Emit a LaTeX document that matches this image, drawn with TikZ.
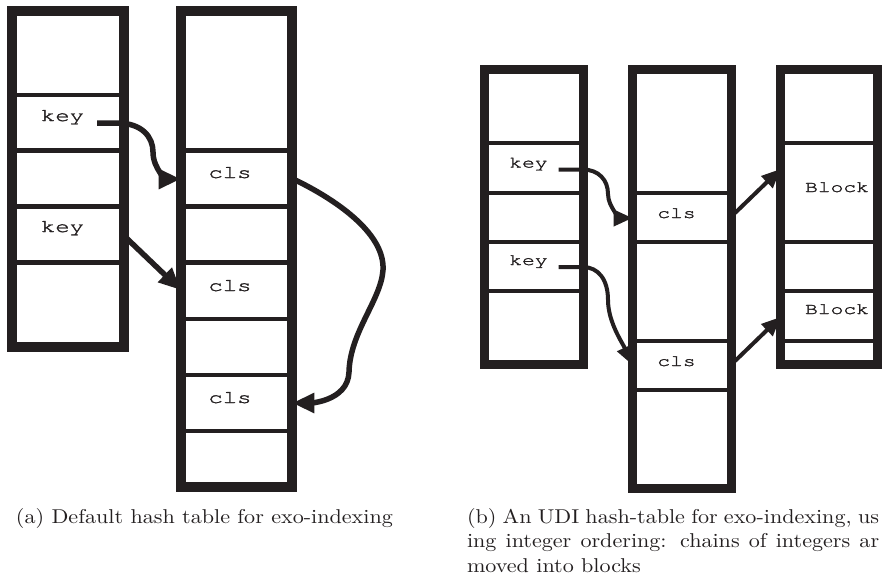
\documentclass[tikz,border=0pt]{standalone}
\usepackage{fontspec}
\usepackage{graphicx}
\newfontfamily\courfont[FakeBold=1.5]{texgyrecursor-regular.otf}
\usetikzlibrary{arrows.meta,calc}
\definecolor{ink}{RGB}{35,31,32}
\newcommand{\mytA}[1]{\scalebox{1.33}[1]{\fontsize{18}{20}\courfont #1}}
\newcommand{\mytB}[1]{\scalebox{1.33}[1]{\fontsize{16}{18}\courfont #1}}
\newcommand{\mycap}[1]{\scalebox{2.21}[2.0]{\fontsize{10}{12}\selectfont #1}}
\begin{document}
\begin{tikzpicture}[x=1pt,y=-1pt,
  tablebox/.style={draw=ink,inner sep=0pt,outer sep=0pt},
  sepA/.style={draw=ink,line width=4.5pt},
  sepB/.style={draw=ink,line width=4pt},
  txt/.style={inner sep=0pt,outer sep=0pt,anchor=base,text=ink},
  captxt/.style={inner sep=0pt,outer sep=0pt,anchor=base west,text=ink},
  arrA/.style={draw=ink,line width=5.5pt,-{Triangle[length=22pt,width=19pt]}},
  arrB/.style={draw=ink,line width=4pt,-{Triangle[length=19pt,width=16pt]}}]
\useasboundingbox (0,0) rectangle (882,576);

% ---------- (a) ----------
\coordinate (A1c) at (68,178.9);
\coordinate (A2c) at (236.5,249);
\path (A1c) node[minimum width=112.6pt,minimum height=336.2pt,inner sep=0pt,outer sep=0pt] (A1) {};
\path (A2c) node[minimum width=111.6pt,minimum height=476.5pt,inner sep=0pt,outer sep=0pt] (A2) {};
\foreach \yy in {95,150.7,206.7,262.7}
  \draw[sepA] (A1.west |- 0,\yy) -- (A1.east |- 0,\yy);
\foreach \yy in {150.7,206.7,262.7,319,375,431}
  \draw[sepA] (A2.west |- 0,\yy) -- (A2.east |- 0,\yy);
\node[tablebox,line width=10pt,minimum width=112.6pt,minimum height=336.2pt] at (A1c) {};
\node[tablebox,line width=10pt,minimum width=111.6pt,minimum height=476.5pt] at (A2c) {};

\node[txt] (ka1) at (62.5,121) {\mytA{key}};
\node[txt] (ka2) at (62.5,232) {\mytA{key}};
\node[txt] (ca1) at (230,178) {\mytA{cls}};
\node[txt] (ca2) at (230,291) {\mytA{cls}};
\node[txt] (ca3) at (230,403) {\mytA{cls}};

\coordinate (p1s) at ($(ka1.base east)+(13,2)$);
\coordinate (p1e) at ($(A2.west |- ca1.base)+(0,1)$);
\draw[arrA] (p1s) -- ++(20,0) .. controls +(25,0) and +(0,-15) .. (153,152)
  .. controls +(0,18) and +(-12,0) .. (p1e);

\coordinate (p2s) at ($(ka2.base -| A1.east)+(1,5)$);
\coordinate (p2e) at ($(A2.west |- ca2.base)+(0,-1)$);
\draw[arrA] (p2s) -- (p2e);

\coordinate (p3s) at ($(A2.east |- ca1.base)+(3,2)$);
\coordinate (p3e) at ($(A2.east |- ca3.base)$);
\draw[arrA] (p3s) .. controls +(45,22) and +(2,-35) .. (383,270)
  .. controls +(-2,30) and +(1,-40) .. (349,372)
  .. controls +(-1,30) and +(15,0) .. (p3e);

% ---------- (b) ----------
\coordinate (B1c) at (534,217);
\coordinate (B2c) at (682,279);
\coordinate (B3c) at (829,217);
\path (B1c) node[minimum width=99pt,minimum height=295pt,inner sep=0pt,outer sep=0pt] (B1) {};
\path (B2c) node[minimum width=99pt,minimum height=419pt,inner sep=0pt,outer sep=0pt] (B2) {};
\path (B3c) node[minimum width=97pt,minimum height=295pt,inner sep=0pt,outer sep=0pt] (B3) {};
\foreach \yy in {143.3,192.7,242.3,291.3}
  \draw[sepB] (B1.west |- 0,\yy) -- (B1.east |- 0,\yy);
\foreach \yy in {192.7,242.3,340.7,390}
  \draw[sepB] (B2.west |- 0,\yy) -- (B2.east |- 0,\yy);
\foreach \yy in {143.3,242.3,291.3,340.7}
  \draw[sepB] (B3.west |- 0,\yy) -- (B3.east |- 0,\yy);
\node[tablebox,line width=9pt,minimum width=99pt,minimum height=295pt] at (B1c) {};
\node[tablebox,line width=9pt,minimum width=99pt,minimum height=419pt] at (B2c) {};
\node[tablebox,line width=9pt,minimum width=97pt,minimum height=295pt] at (B3c) {};

\node[txt] (kb1) at (528.5,167.5) {\mytB{key}};
\node[txt] (kb2) at (528.5,265) {\mytB{key}};
\node[txt] (cb1) at (676.5,218) {\mytB{cls}};
\node[txt] (cb2) at (676.5,366) {\mytB{cls}};
\node[txt] (bb1) at (837,192) {\mytB{Block}};
\node[txt] (bb2) at (837,314) {\mytB{Block}};

\coordinate (q1s) at ($(kb1.base east)+(11,2)$);
\coordinate (q1e) at ($(B2.west |- cb1.base)$);
\draw[arrB] (q1s) -- ++(24,0) .. controls +(16,0) and +(0,-14) .. (608,194)
  .. controls +(0,14) and +(-10,0) .. (q1e);

\coordinate (q2s) at ($(kb2.base east)+(11,2)$);
\coordinate (q2e) at ($(B2.west |- cb2.base)+(0,-1)$);
\draw[arrB] (q2s) -- ++(24,0) .. controls +(16,0) and +(0,-20) .. (608,300)
  .. controls +(0,22) and +(-10,-22) .. (q2e);

\coordinate (q3s) at ($(B2.east |- cb1.base)+(3.5,-5)$);
\coordinate (q3e) at ($(B3.west |- bb1.base)+(0,-23)$);
\draw[arrB] (q3s) -- (q3e);

\coordinate (q4s) at ($(B2.east |- cb2.base)+(3.5,-5)$);
\coordinate (q4e) at ($(B3.west |- bb2.base)+(0,3)$);
\draw[arrB] (q4s) -- (q4e);

% ---------- captions ----------
\node[captxt] (capa) at (16,523) {\mycap{(a) Default hash table for exo-indexing}};
\node[captxt] (capb1) at (467,523) {\mycap{\makebox[186.5pt][s]{(b) An UDI hash-table for exo-indexing, us}}};
\node[captxt] (capb2) at (467,547.5) {\mycap{\makebox[186.5pt][s]{ing integer ordering: chains of integers ar}}};
\node[captxt] (capb3) at (467,572) {\mycap{moved into blocks}};
\end{tikzpicture}
\end{document}
